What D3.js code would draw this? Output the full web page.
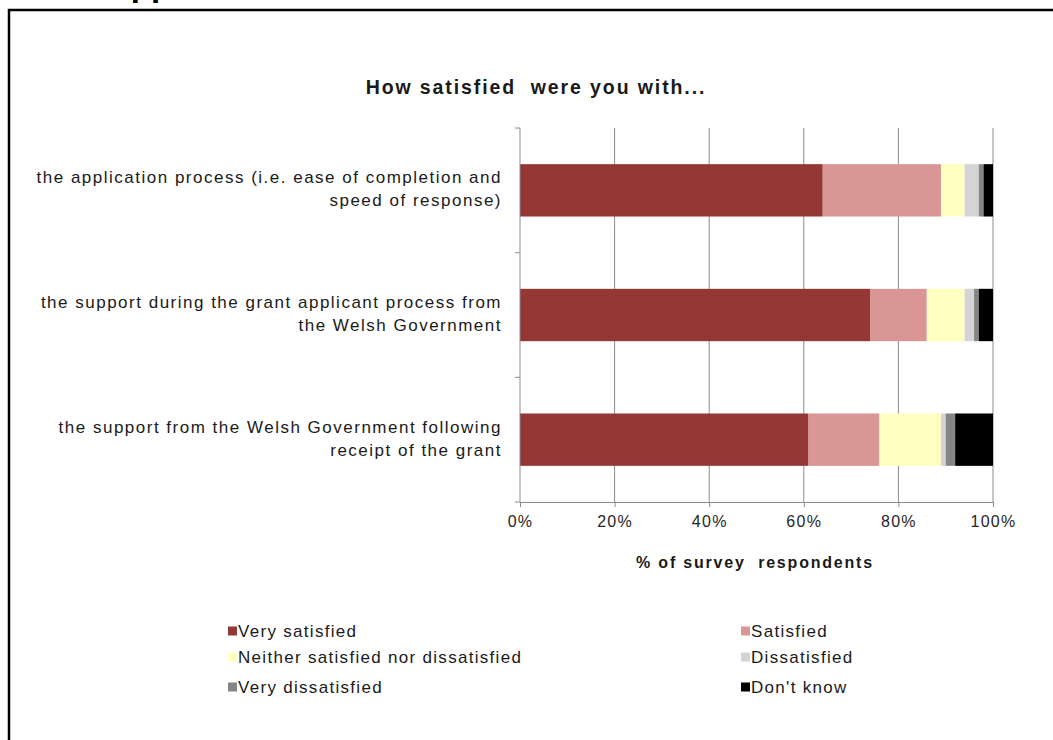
<!DOCTYPE html>
<html>
<head>
<meta charset="utf-8">
<script src="https://cdn.jsdelivr.net/npm/d3@7"></script>
<style>
  body { margin: 0; background: #fff; }
  svg { display: block; }
  text { font-family: "Liberation Sans", Arial, Helvetica, sans-serif; fill: #1a1a1a; }
</style>
</head>
<body>
<svg id="chart" width="1053" height="740"></svg>
<script>
// Survey questions (each split over two lines)
const questions = [
  ["the application process (i.e. ease of completion and", "speed of response)"],
  ["the support during the grant applicant process from", "the Welsh Government"],
  ["the support from the Welsh Government following", "receipt of the grant"]
];

const responses = ["Very satisfied", "Satisfied", "Neither satisfied nor dissatisfied",
                   "Dissatisfied", "Very dissatisfied", "Don't know"];
const colours = ["#953735", "#D99694", "#FFFFC2", "#D4D4D4", "#858585", "#000000"];

// Percentage of respondents per answer, one entry per question
const verySatisfied    = [64, 74, 61];
const satisfied        = [25, 12, 15];
const neither          = [5, 8, 13];
const dissatisfied     = [3, 2, 1];
const veryDissatisfied = [1, 1, 2];
const dontKnow         = [2, 3, 8];

const xTicks = [0, 20, 40, 60, 80, 100];

const series = [verySatisfied, satisfied, neither, dissatisfied, veryDissatisfied, dontKnow];
const rows = questions.map((q, i) => {
  const r = { idx: i };
  responses.forEach((name, k) => { r[name] = series[k][i]; });
  return r;
});

const svg = d3.select("#chart");

// Outer frame (top and left edges)
svg.append("path")
  .attr("d", "M9,740V10H1053")
  .attr("fill", "none").attr("stroke", "#000").attr("stroke-width", 2.5);

// Section heading running off the top of the page
svg.append("text")
  .attr("x", 107).attr("y", -4)
  .attr("font-size", 33).attr("font-weight", "bold")
  .style("fill", "#000")
  .text("App");

const plot = { left: 520, right: 993, top: 128, bottom: 502 };

const x = d3.scaleLinear().domain([0, 100]).range([plot.left, plot.right]);
const y = d3.scaleBand().domain(d3.range(questions.length))
  .range([plot.top, plot.bottom]).paddingInner(0.58).paddingOuter(0.29);

// Title
svg.append("text")
  .attr("x", 536).attr("y", 94)
  .attr("text-anchor", "middle")
  .attr("font-size", 19.5).attr("font-weight", "bold")
  .attr("letter-spacing", 1.9)
  .style("white-space", "pre")
  .text("How satisfied  were you with...");

// Vertical gridlines
svg.append("g").selectAll("line").data(xTicks.slice(1)).join("line")
  .attr("x1", d => x(d)).attr("x2", d => x(d))
  .attr("y1", plot.top).attr("y2", plot.bottom)
  .attr("stroke", "#8c8c8c").attr("stroke-width", 1);

// Stacked bars
const stack = d3.stack().keys(responses);
const layers = stack(rows);
svg.append("g").selectAll("g").data(layers).join("g")
  .attr("fill", (d, i) => colours[i])
  .selectAll("rect").data(d => d).join("rect")
  .attr("x", d => x(d[0]))
  .attr("width", d => x(d[1]) - x(d[0]))
  .attr("y", d => y(d.data.idx))
  .attr("height", y.bandwidth());

// X axis
const xAxis = d3.axisBottom(x).tickValues(xTicks).tickFormat(d => d + "%")
  .tickSizeInner(5).tickSizeOuter(0).tickPadding(9);
const gx = svg.append("g").attr("transform", `translate(0,${plot.bottom})`).call(xAxis);
gx.select(".domain").attr("stroke", "#8c8c8c");
gx.selectAll(".tick line").attr("stroke", "#8c8c8c");
gx.selectAll(".tick text")
  .attr("font-size", 16).attr("letter-spacing", 1.3)
  .style("font-family", "\"Liberation Sans\", Arial, sans-serif")
  .style("fill", "#262626");

// Y axis: line with ticks on band boundaries
const gy = svg.append("g");
gy.append("line")
  .attr("x1", plot.left).attr("x2", plot.left)
  .attr("y1", plot.top).attr("y2", plot.bottom)
  .attr("stroke", "#8c8c8c");
gy.selectAll("line.tick").data(d3.range(questions.length + 1)).join("line")
  .attr("class", "tick")
  .attr("x1", plot.left - 5).attr("x2", plot.left)
  .attr("y1", i => plot.top + i * y.step()).attr("y2", i => plot.top + i * y.step())
  .attr("stroke", "#8c8c8c");

// Question labels
const lab = svg.append("g").selectAll("text").data(questions).join("text")
  .attr("text-anchor", "end")
  .attr("font-size", 17).attr("letter-spacing", 1.5)
  .attr("transform", (d, i) => `translate(502,${y(i) + y.bandwidth() / 2})`);
lab.selectAll("tspan").data(d => d).join("tspan")
  .attr("x", 0)
  .attr("y", (d, j) => j === 0 ? -7 : 16)
  .text(d => d);

// X axis title
svg.append("text")
  .attr("x", 755).attr("y", 568)
  .attr("text-anchor", "middle")
  .attr("font-size", 16).attr("font-weight", "bold")
  .attr("letter-spacing", 1.8)
  .style("white-space", "pre")
  .text("% of survey  respondents");

// Legend
const legendCols = [228, 741];
const legendRows = [631, 657, 687];
const leg = svg.append("g").selectAll("g").data(responses).join("g")
  .attr("transform", (d, i) => `translate(${legendCols[i % 2]},${legendRows[Math.floor(i / 2)]})`);
leg.append("rect")
  .attr("x", 0).attr("y", -4.5).attr("width", 9).attr("height", 9)
  .attr("fill", (d, i) => colours[i]);
leg.append("text")
  .attr("x", 10).attr("y", 6)
  .attr("font-size", 17).attr("letter-spacing", 1.3)
  .text(d => d);
</script>
</body>
</html>
